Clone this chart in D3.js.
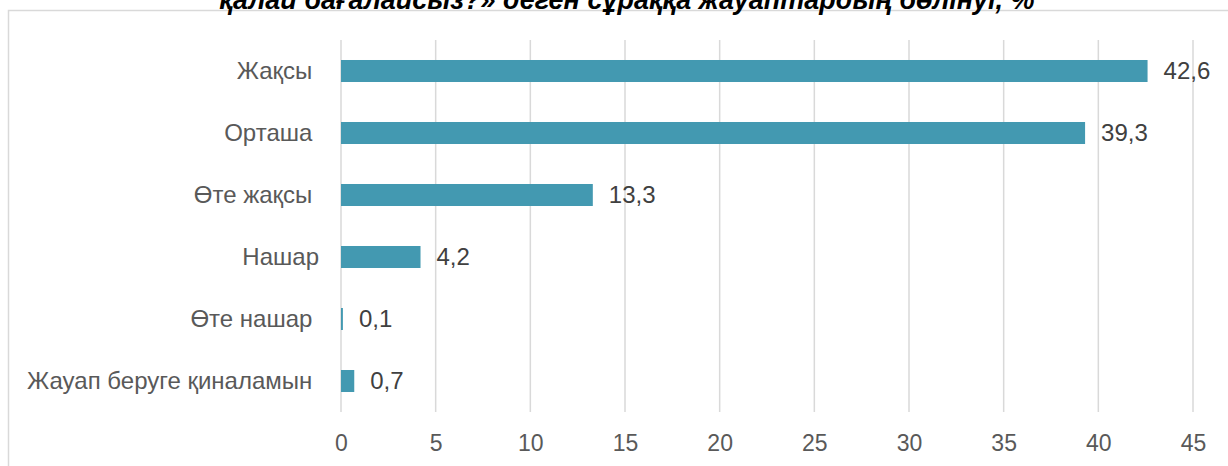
<!DOCTYPE html>
<html><head><meta charset="utf-8">
<script src="https://cdn.jsdelivr.net/npm/d3@7"></script>
<style>
html,body{margin:0;padding:0;background:#fff;}
svg{display:block;}
text{white-space:pre;}
</style></head>
<body>
<svg id="chart" width="1228" height="466"></svg>
<script>
const titleText = "қалай бағалайсыз?» деген сұраққа жауаптардың бөлінуі, %";
const categories = ["Жақсы ", "Орташа ", "Өте жақсы ", "Нашар", "Өте нашар ", "Жауап беруге қиналамын "];
const values = [42.6, 39.3, 13.3, 4.2, 0.1, 0.7];
const valueLabels = ["42,6", "39,3", "13,3", "4,2", "0,1", "0,7"];
const tickValues = [0, 5, 10, 15, 20, 25, 30, 35, 40, 45];

const svg = d3.select("#chart");
const W = 1228, H = 466;
const margin = {left: 341, right: 35, top: 40, bottom: 54};
const plotBottom = H - margin.bottom;
const FONT = "Liberation Sans, Arial, sans-serif";

// outer border
svg.append("rect").attr("x", 8.5).attr("y", 10.5).attr("width", 1240).attr("height", 480)
  .attr("fill", "none").attr("stroke", "#d9d9d9").attr("stroke-width", 1.5);

// title (cut off at top, as in the reference)
svg.append("text").attr("x", 627).attr("y", 9)
  .attr("text-anchor", "middle")
  .attr("font-family", FONT)
  .attr("font-size", 27).attr("font-weight", "bold").attr("font-style", "italic")
  .attr("fill", "#000").text(titleText);

const x = d3.scaleLinear().domain([0, 45]).range([margin.left, 1193]);
const y = d3.scaleBand().domain(categories).range([margin.top, plotBottom]).paddingInner(0.645).paddingOuter(0.3225);

// gridlines
svg.append("g").selectAll("line").data(tickValues).join("line")
  .attr("x1", d => x(d)).attr("x2", d => x(d))
  .attr("y1", margin.top).attr("y2", plotBottom)
  .attr("stroke", "#d9d9d9").attr("stroke-width", 1.5);

// x axis
const xAxis = d3.axisBottom(x).tickValues(tickValues).tickSize(0).tickPadding(0).tickFormat(d3.format("d"));
const gx = svg.append("g").attr("transform", `translate(0,${plotBottom})`).call(xAxis);
gx.select(".domain").remove();
gx.selectAll("text").attr("y", 39).attr("dy", 0)
  .attr("font-family", FONT).attr("font-size", 23).attr("fill", "#595959");

// y axis labels
const yAxis = d3.axisLeft(y).tickSize(0).tickPadding(22);
const gy = svg.append("g").attr("transform", `translate(${margin.left},0)`).call(yAxis);
gy.select(".domain").remove();
gy.selectAll("text").attr("font-family", FONT)
  .attr("font-size", 24).attr("fill", "#595959").attr("dy", "0.35em");

// bars
svg.append("g").selectAll("rect").data(values).join("rect")
  .attr("x", x(0)).attr("y", (d, i) => y(categories[i]))
  .attr("width", d => x(d) - x(0)).attr("height", y.bandwidth())
  .attr("fill", "#4399b1");

// value labels
svg.append("g").selectAll("text").data(values).join("text")
  .attr("x", d => x(d) + 16).attr("y", (d, i) => y(categories[i]) + y.bandwidth() / 2)
  .attr("dy", "0.35em")
  .attr("font-family", FONT).attr("font-size", 24).attr("fill", "#404040")
  .text((d, i) => valueLabels[i]);
</script>
</body></html>
